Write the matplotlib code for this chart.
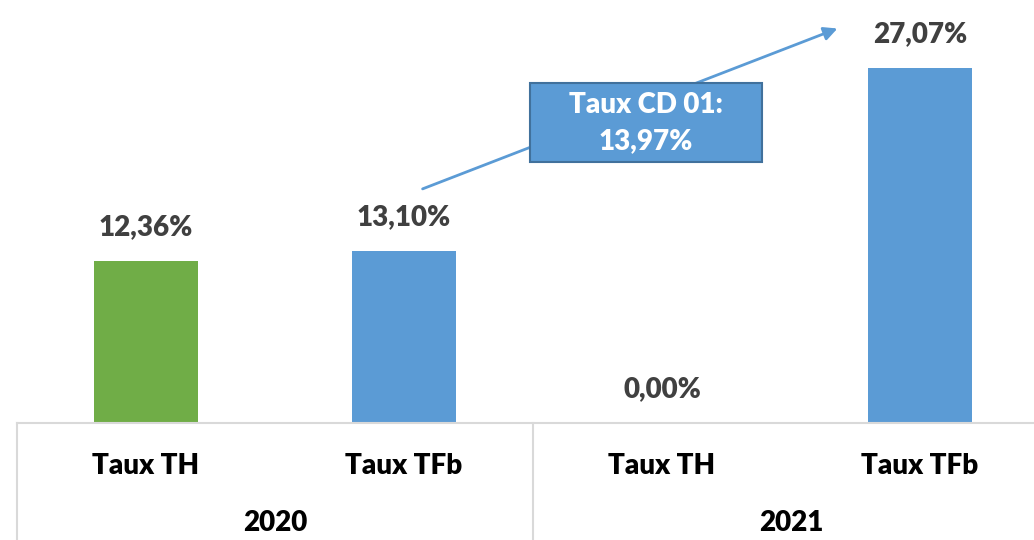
import matplotlib
matplotlib.use("Agg")
from matplotlib import pyplot as plt
from matplotlib.patches import Rectangle

plt.rcParams['font.family'] = ['Lato', 'DejaVu Sans']

categories = ['Taux TH', 'Taux TFb', 'Taux TH', 'Taux TFb']
years = ['2020', '2021']
values = [12.36, 13.10, 0.00, 27.07]
labels = ['12,36%', '13,10%', '0,00%', '27,07%']
bar_colors = ['#70ad47', '#5b9bd5', '#5b9bd5', '#5b9bd5']
note_text = 'Taux CD 01:\n13,97%'
weight = 'heavy'

fig = plt.figure(figsize=(10.34, 5.4), dpi=100)
ax = fig.add_axes([17 / 1034, 117 / 540, 1032 / 1034, 423 / 540])

x = list(range(len(values)))
ax.bar(x, values, width=0.4, color=bar_colors, zorder=2)
ax.set_xlim(-0.5, 3.5)
ax.set_ylim(0, 32.3)

for xi, v, lab in zip(x, values, labels):
    ax.annotate(lab, (xi, v), xytext=(0, 34), textcoords='offset pixels',
                ha='center', va='center', fontsize=20, fontweight=weight,
                color='#404040')

ax.set_xticks([])
ax.set_yticks([])
for s in ['top', 'right', 'left']:
    ax.spines[s].set_visible(False)
ax.spines['bottom'].set_color('#d9d9d9')
ax.spines['bottom'].set_linewidth(1.5)

# category labels below axis
for xi, c in zip(x, categories):
    ax.text(xi, -0.102, c, transform=ax.get_xaxis_transform(), ha='center',
            va='center', fontsize=20, fontweight=weight, color='black')
for i, y in enumerate(years):
    ax.text(2 * i + 0.5, -0.236, y, transform=ax.get_xaxis_transform(),
            ha='center', va='center', fontsize=20, fontweight=weight,
            color='black')
for xs in [-0.5, 1.5, 3.5]:
    ax.plot([xs, xs], [0, -0.3], transform=ax.get_xaxis_transform(),
            color='#d9d9d9', lw=1.5, clip_on=False)

# arrow and note box
ax.annotate('', xy=(2.69, 30.2), xytext=(1.062, 17.8),
            arrowprops=dict(arrowstyle='-|>', color='#5b9bd5', lw=2,
                            mutation_scale=20), zorder=3)
ax.add_patch(Rectangle((1.488, 19.92), 0.9, 6.03, fc='#5b9bd5', ec='#41719c',
                       lw=1.5, zorder=4))
ax.text(1.938, 22.9, note_text, ha='center', va='center', fontsize=20,
        fontweight=weight, color='white', linespacing=1.45, zorder=5)

fig.savefig('out.png', dpi=100)
